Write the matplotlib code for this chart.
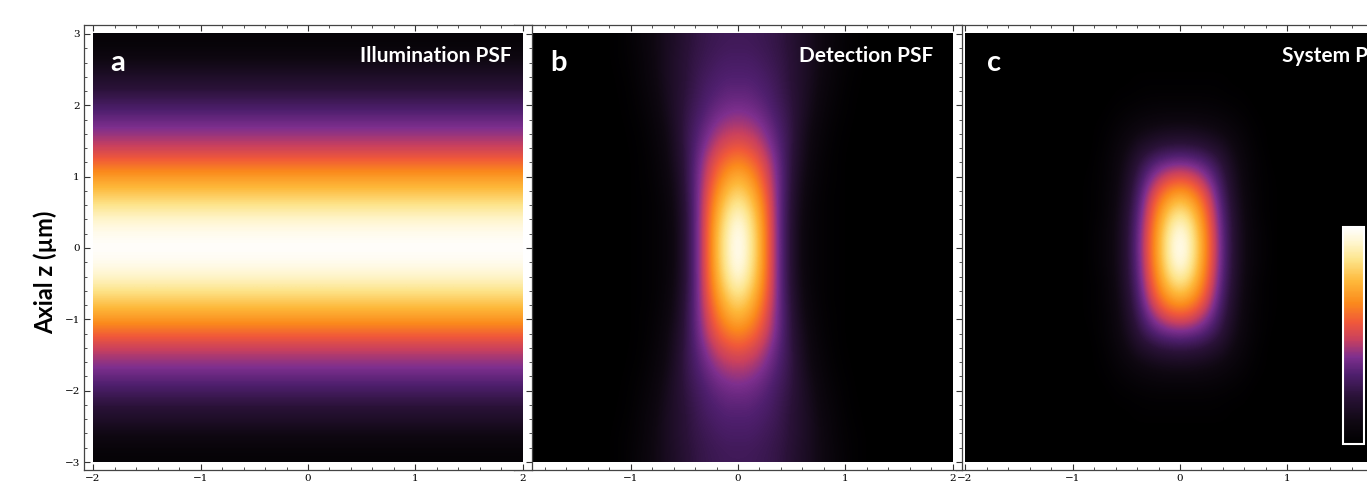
import numpy as np
import matplotlib
matplotlib.use("Agg")
import matplotlib.pyplot as plt
from matplotlib.colors import LinearSegmentedColormap
from matplotlib.ticker import MultipleLocator

# intensity (0..1), one quadrant: rows z = 0, 0.25, ..., 3 ; cols x = 0, 0.1, ..., 1.2
z_steps = [0, 0.25, 0.5, 0.75, 1.0, 1.25, 1.5, 1.75, 2.0, 2.25, 2.5, 2.75, 3.0]

# illumination PSF only varies along z
illum_profile = [1.0, 0.97, 0.9, 0.8, 0.7, 0.58, 0.47, 0.4, 0.32, 0.24, 0.17, 0.1, 0.04]

detect_quad = [
    [1.00, 0.90, 0.76, 0.55, 0.36, 0.22, 0.10, 0.05, 0.03, 0.015, 0.01, 0.0, 0.0],
    [0.98, 0.89, 0.75, 0.55, 0.36, 0.22, 0.10, 0.05, 0.03, 0.015, 0.01, 0.0, 0.0],
    [0.92, 0.85, 0.72, 0.54, 0.36, 0.22, 0.11, 0.05, 0.03, 0.015, 0.01, 0.0, 0.0],
    [0.83, 0.78, 0.67, 0.52, 0.36, 0.23, 0.12, 0.06, 0.03, 0.015, 0.01, 0.0, 0.0],
    [0.74, 0.70, 0.61, 0.49, 0.36, 0.24, 0.13, 0.07, 0.035, 0.02, 0.01, 0.0, 0.0],
    [0.64, 0.61, 0.55, 0.46, 0.35, 0.24, 0.15, 0.08, 0.04, 0.02, 0.01, 0.0, 0.0],
    [0.54, 0.52, 0.48, 0.41, 0.33, 0.25, 0.16, 0.09, 0.05, 0.025, 0.01, 0.005, 0.0],
    [0.46, 0.45, 0.42, 0.37, 0.31, 0.25, 0.17, 0.10, 0.06, 0.03, 0.015, 0.005, 0.0],
    [0.40, 0.39, 0.37, 0.33, 0.29, 0.24, 0.18, 0.12, 0.07, 0.04, 0.02, 0.01, 0.0],
    [0.35, 0.35, 0.33, 0.31, 0.27, 0.23, 0.18, 0.13, 0.08, 0.05, 0.025, 0.01, 0.005],
    [0.32, 0.32, 0.31, 0.29, 0.26, 0.22, 0.18, 0.14, 0.09, 0.06, 0.03, 0.015, 0.005],
    [0.30, 0.30, 0.29, 0.27, 0.25, 0.22, 0.18, 0.14, 0.10, 0.06, 0.035, 0.02, 0.01],
    [0.28, 0.28, 0.27, 0.26, 0.24, 0.21, 0.17, 0.14, 0.10, 0.07, 0.04, 0.02, 0.01],
]

system_quad = [
    [1.00, 0.90, 0.74, 0.55, 0.37, 0.22, 0.12, 0.06, 0.03, 0.01, 0.0, 0.0, 0.0],
    [0.96, 0.88, 0.72, 0.54, 0.36, 0.22, 0.12, 0.06, 0.03, 0.01, 0.0, 0.0, 0.0],
    [0.86, 0.80, 0.67, 0.51, 0.34, 0.21, 0.11, 0.05, 0.02, 0.01, 0.0, 0.0, 0.0],
    [0.72, 0.68, 0.59, 0.46, 0.31, 0.19, 0.10, 0.05, 0.02, 0.01, 0.0, 0.0, 0.0],
    [0.55, 0.53, 0.47, 0.38, 0.27, 0.17, 0.09, 0.04, 0.02, 0.01, 0.0, 0.0, 0.0],
    [0.38, 0.37, 0.34, 0.29, 0.22, 0.14, 0.08, 0.04, 0.02, 0.0, 0.0, 0.0, 0.0],
    [0.23, 0.22, 0.21, 0.18, 0.15, 0.10, 0.06, 0.03, 0.01, 0.0, 0.0, 0.0, 0.0],
    [0.12, 0.12, 0.11, 0.10, 0.08, 0.06, 0.04, 0.02, 0.01, 0.0, 0.0, 0.0, 0.0],
    [0.05, 0.05, 0.05, 0.045, 0.04, 0.03, 0.02, 0.01, 0.0, 0.0, 0.0, 0.0, 0.0],
    [0.02, 0.02, 0.02, 0.02, 0.015, 0.01, 0.01, 0.0, 0.0, 0.0, 0.0, 0.0, 0.0],
    [0.01, 0.01, 0.01, 0.01, 0.01, 0.005, 0.0, 0.0, 0.0, 0.0, 0.0, 0.0, 0.0],
    [0.0] * 13,
    [0.0] * 13,
]

panel_letters = ["a", "b", "c"]
panel_titles = ["Illumination PSF", "Detection PSF", "System PSF"]


def mirror(quad):
    q = np.array(quad, dtype=float)
    # columns past the read ones (x up to 2) are black
    q = np.hstack([q, np.zeros((q.shape[0], 21 - q.shape[1]))])
    q = np.hstack([q[:, :0:-1], q])
    return np.vstack([q[:0:-1], q])


illum = mirror(np.tile(np.array(illum_profile)[:, None], (1, 21)))
detect = mirror(detect_quad)
system = mirror(system_quad)

cmap = LinearSegmentedColormap.from_list("sunset", [
    (0.0, "#000000"), (0.1, "#0f0812"), (0.22, "#2a1238"), (0.32, "#4f1f6e"),
    (0.40, "#7e2f8e"), (0.48, "#c8405f"), (0.56, "#f0583a"), (0.65, "#fb8a1c"),
    (0.75, "#feb83a"), (0.85, "#fde48a"), (0.93, "#fff6cf"), (1.0, "#ffffff")])

plt.rcParams['font.family'] = ['Lato', 'DejaVu Sans']

W, H = 1367, 495
fig = plt.figure(figsize=(W / 100, H / 100), dpi=100)

# frame positions in pixels (left, right), panels overlap a little like the original
frames = [(84, 532), (514, 962), (956, 1404)]
top, bottom = 25, 470
letter_pos = [(0.058, 0.897), (0.080, 0.897), (0.069, 0.897)]
title_pos = [(0.955, "right"), (0.935, "right"), (0.728, "left")]

axes = []
for i, (data, (l, r)) in enumerate(zip([illum, detect, system], frames)):
    ax = fig.add_axes([l / W, (H - bottom) / H, (r - l) / W, (bottom - top) / H], zorder=3 - i)
    ax.set_facecolor("white")
    im = ax.imshow(data, cmap=cmap, vmin=0, vmax=1, origin="lower", extent=[-2, 2, -3, 3],
                   interpolation="bicubic", interpolation_stage="data", aspect="auto")
    ax.set_xlim(-2.084, 2.084)
    ax.set_ylim(-3.112, 3.126)
    ax.xaxis.set_major_locator(MultipleLocator(1))
    ax.xaxis.set_minor_locator(MultipleLocator(0.2))
    ax.yaxis.set_major_locator(MultipleLocator(1))
    ax.yaxis.set_minor_locator(MultipleLocator(0.2))
    ax.tick_params(which="both", direction="in", top=True, right=True, color="#333333",
                   labelsize=7.5, pad=3, labelleft=(i == 0))
    ax.tick_params(which="major", length=4, width=0.8)
    ax.tick_params(which="minor", length=2, width=0.6)
    if i == 1:
        # b's -2 sits under a's 2 in the original
        ax.set_xticks([-1, 0, 1, 2])
    for lab in ax.get_xticklabels() + ax.get_yticklabels():
        lab.set_family("DejaVu Serif")
    for s in ax.spines.values():
        s.set_color("#444444")
        s.set_linewidth(0.9)
    ax.text(letter_pos[i][0], letter_pos[i][1], panel_letters[i], transform=ax.transAxes,
            color="white", fontsize=21, fontweight="bold", va="baseline", ha="left")
    ax.text(title_pos[i][0], 0.917, panel_titles[i], transform=ax.transAxes,
            color="white", fontsize=15, fontweight="bold", va="baseline", ha=title_pos[i][1])
    axes.append(ax)

fig.text(45 / W, 1 - 272 / H, "Axial z (µm)", rotation=90, fontsize=17, fontweight="bold",
         ha="center", va="center")

cax = fig.add_axes([1343 / W, (H - 444) / H, 21 / W, 217 / H], zorder=5)
cb = fig.colorbar(im, cax=cax)
cb.set_ticks([])
cb.outline.set_edgecolor("white")
cb.outline.set_linewidth(1.5)

fig.savefig("out.png", dpi=100)
